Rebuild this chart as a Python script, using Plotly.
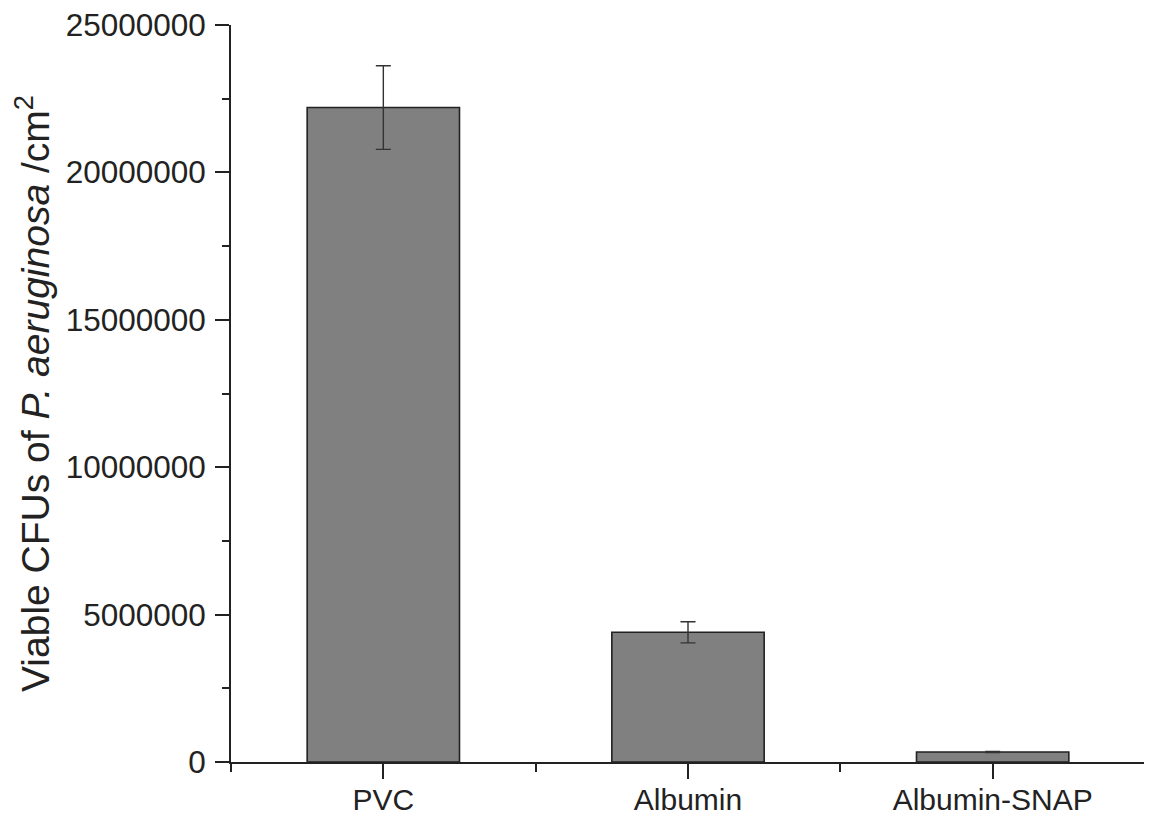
import plotly.graph_objects as go

categories = ["PVC", "Albumin", "Albumin-SNAP"]
cfu_values = [22200000, 4400000, 340000]
cfu_errors = [1420000, 360000, 20000]
y_ticks = [0, 5000000, 10000000, 15000000, 20000000, 25000000]

x_pos = list(range(len(categories)))
font_family = "Liberation Sans, Arial, sans-serif"
ink = "#222222"

fig = go.Figure()
fig.add_trace(go.Bar(
    x=x_pos, y=cfu_values, width=0.5,
    marker=dict(color="#808080", line=dict(color=ink, width=1.6)),
    error_y=dict(type="data", array=cfu_errors, visible=True,
                 color="#333333", thickness=1.4, width=7.5),
    showlegend=False,
))

fig.update_layout(
    width=1144, height=813,
    margin=dict(l=223, r=7, t=17, b=59),
    paper_bgcolor="white", plot_bgcolor="white",
    font=dict(family=font_family, size=30, color=ink),
    xaxis=dict(
        range=[-0.5, 2.5], tickvals=x_pos, ticktext=categories,
        showline=True, linecolor=ink, linewidth=1.6,
        ticks="outside", ticklen=15, tickwidth=1.6, tickcolor=ink,
        minor=dict(tickmode="linear", tick0=-0.5, dtick=1, ticks="outside",
                   ticklen=8, tickwidth=1.6, tickcolor=ink),
        showgrid=False, zeroline=False,
        tickfont=dict(size=30),
        ticklabelstandoff=-5,
        automargin=False,
    ),
    yaxis=dict(
        range=[0, 25000000], tickvals=y_ticks, tickformat="d",
        showline=True, linecolor=ink, linewidth=1.6,
        ticks="outside", ticklen=14, tickwidth=1.6, tickcolor=ink,
        minor=dict(tickmode="linear", tick0=0, dtick=2500000, ticks="outside",
                   ticklen=7, tickwidth=1.6, tickcolor=ink),
        showgrid=False, zeroline=False,
        tickfont=dict(size=31.5),
        ticklabelstandoff=3,
        ticklabeloverflow="allow",
        automargin=False,
        title=dict(text="Viable CFUs of <i>P. aeruginosa</i> /cm<sup>2</sup>",
                   font=dict(size=39), standoff=8),
    ),
)

fig.write_html("out.html")
